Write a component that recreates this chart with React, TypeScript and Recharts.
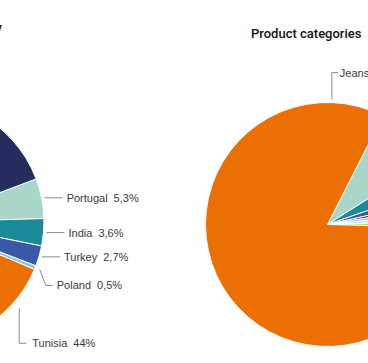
import { PieChart, Pie, Cell } from "recharts";

// Left pie: production share by country (clockwise from Portugal)
const countries = ["Portugal", "India", "Turkey", "Poland", "Tunisia", "Morocco", "Italy", "China"];
const countryShares = [5.3, 3.6, 2.7, 0.5, 44, 18.4, 13.5, 12];
const countryColors = ["#a9d6c8", "#1b8a98", "#3858a8", "#8fc3ea", "#ec6f03", "#b5cf6d", "#c8e0f0", "#272c5f"];

// Right pie: product categories (clockwise from Trousers)
const categories = ["Trousers", "Jackets", "Shirts", "Knitwear", "Skirts", "Accessories", "Other", "Jeans"];
const categoryShares = [8.5, 3.7, 1.8, 0.9, 1.0, 1.1, 0.9, 82.1];
const categoryColors = ["#a9d6c8", "#1b8a98", "#3858a8", "#272c5f", "#8fc3ea", "#c8e0f0", "#b5cf6d", "#ec6f03"];

const countryData = countries.map((name, i) => ({ name, value: countryShares[i] }));
const categoryData = categories.map((name, i) => ({ name, value: categoryShares[i] }));

const RAD = Math.PI / 180;
const FONT = "'Liberation Sans', Arial, sans-serif";

// leader line shapes: anchor gap off the rim, optional fixed anchor angle, elbow path, text offset
// (only the labels that fall inside the visible crop are drawn)
type Layout = { gap: number; angle?: number; path: [number, number][]; textDx: number };
const LABEL_LAYOUT: Record<string, Layout> = {
  Portugal: { gap: 3, path: [[18, 0]], textDx: 4 },
  India: { gap: 3, path: [[18, 0]], textDx: 4 },
  Turkey: { gap: 3, path: [[18, 0]], textDx: 4 },
  Poland: { gap: 5, path: [[6, 16], [13, 16]], textDx: 4 },
  Tunisia: { gap: 8, angle: -41.6, path: [[0, 35], [7, 35]], textDx: 6 },
  Jeans: { gap: 3, angle: 88, path: [[0, -27], [6, -27]], textDx: 2 },
};

const fmt = (v: number) => (Number.isInteger(v) ? `${v}%` : `${v.toFixed(1).replace(".", ",")}%`);

function renderLabel(props: any) {
  const { cx, cy, midAngle, outerRadius, name, value } = props;
  const lay = LABEL_LAYOUT[name];
  if (!lay) return null;
  const ang = lay.angle ?? midAngle;
  const r = outerRadius + lay.gap;
  const x0 = cx + r * Math.cos(-ang * RAD);
  const y0 = cy + r * Math.sin(-ang * RAD);
  const pts = [[x0, y0], ...lay.path.map(([dx, dy]) => [x0 + dx, y0 + dy])];
  const [xe, ye] = pts[pts.length - 1];
  return (
    <g key={`lbl-${name}`}>
      <polyline points={pts.map((p) => p.join(",")).join(" ")} fill="none" stroke="#8c8c8c" strokeWidth={1} />
      <text x={xe + lay.textDx} y={ye} dominantBaseline="central" fontSize={11} fontFamily={FONT} fill="#3a3a3a">
        {name}
        <tspan dx={6}>{fmt(value)}</tspan>
      </text>
    </g>
  );
}

export default function App() {
  return (
    <div style={{ position: "fixed", left: 0, top: 0, width: 368, height: 363, overflow: "hidden", background: "#fff" }}>
      <PieChart width={368} height={363} margin={{ top: 0, right: 0, bottom: 0, left: 0 }}>
        <text x={2} y={32} textAnchor="end" fontSize={13} fontWeight={500} fontFamily="Roboto, sans-serif" fill="#111">
          Suppliers by country
        </text>
        <text x={251} y={38} fontSize={13} fontWeight={500} fontFamily="Roboto, sans-serif" fill="#111">
          Product categories
        </text>
        <Pie
          data={countryData}
          dataKey="value"
          nameKey="name"
          cx={-78}
          cy={222}
          outerRadius={122}
          startAngle={20.7}
          endAngle={-339.3}
          stroke="#fff"
          strokeWidth={1}
          label={renderLabel}
          labelLine={false}
          isAnimationActive={false}
        >
          {countryData.map((d, i) => (
            <Cell key={d.name} fill={countryColors[i]} />
          ))}
        </Pie>
        <Pie
          data={categoryData}
          dataKey="value"
          nameKey="name"
          cx={327.5}
          cy={224.5}
          outerRadius={122}
          startAngle={63}
          endAngle={-297}
          stroke="#fff"
          strokeWidth={1}
          label={renderLabel}
          labelLine={false}
          isAnimationActive={false}
        >
          {categoryData.map((d, i) => (
            <Cell key={d.name} fill={categoryColors[i]} />
          ))}
        </Pie>
      </PieChart>
    </div>
  );
}
